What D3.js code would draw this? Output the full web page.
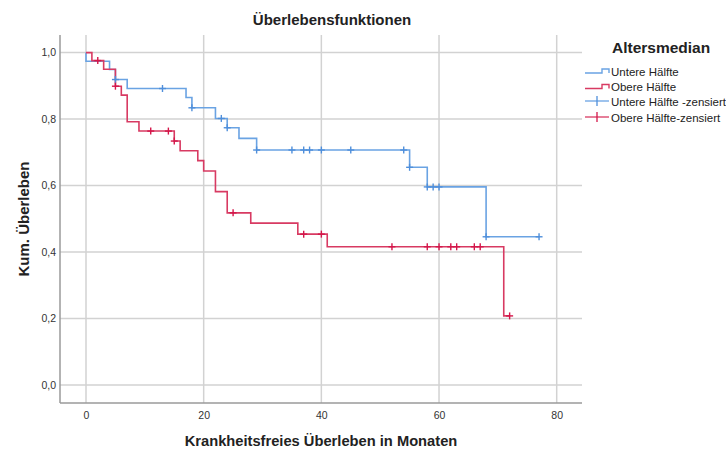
<!DOCTYPE html>
<html lang="de">
<head>
<meta charset="utf-8">
<title>Überlebensfunktionen</title>
<script src="https://cdn.jsdelivr.net/npm/d3@7"></script>
<style>
  html, body { margin: 0; padding: 0; background: #fff; }
  svg { display: block; font-family: "Liberation Sans", Arial, sans-serif; }
</style>
</head>
<body>
<svg id="chart" width="726" height="449"></svg>
<script>
// Kaplan-Meier-Schätzer: Ereigniszeitpunkte (Monate) und kumuliertes Überleben danach
const gruppen = ["Untere Hälfte", "Obere Hälfte"];

const unterZeiten = [0, 4, 5, 7, 17, 18, 22, 24, 26, 29, 55, 58, 68];
const unterUeberleben = [0.974, 0.949, 0.919, 0.892, 0.865, 0.834, 0.802, 0.774, 0.742, 0.707, 0.655, 0.596, 0.446];
const unterZensiert = [5, 13, 18, 23, 24, 29, 35, 37, 38, 40, 45, 54, 55, 58, 59, 60, 68, 77];

const obereZeiten = [1, 3, 5, 6, 7, 9, 15, 16, 19, 20, 22, 24, 28, 36, 41, 71];
const obereUeberleben = [0.976, 0.950, 0.899, 0.872, 0.792, 0.764, 0.734, 0.705, 0.675, 0.644, 0.582, 0.518, 0.487, 0.454, 0.416, 0.208];
const obereZensiert = [2, 5, 11, 14, 15, 25, 37, 40, 52, 58, 60, 62, 63, 66, 67, 72];

const xTicks = [0, 20, 40, 60, 80];
const yTicks = [0, 0.2, 0.4, 0.6, 0.8, 1.0];

const legendeTitel = "Altersmedian";
const legendeEintraege = ["Untere Hälfte", "Obere Hälfte", "Untere Hälfte -zensiert", "Obere Hälfte-zensiert"];

const farbeBlau = "#6aa3e3";
const farbeRot = "#d83a62";
const markeBlau = "#4f8fdb";
const markeRot = "#d4164a";

const svg = d3.select("#chart");
const plot = { left: 60, right: 582, top: 35, bottom: 403 };

const x = d3.scaleLinear().domain([-4.42, 84.3]).range([plot.left, plot.right]);
const y = d3.scaleLinear().domain([-0.054, 1.053]).range([plot.bottom, plot.top]);

const deFormat = d3.formatLocale({ decimal: ",", thousands: ".", grouping: [3], currency: ["", " €"] });
const fmtY = deFormat.format(".1f");

// Gitterlinien
svg.append("g")
  .selectAll("line")
  .data(xTicks)
  .join("line")
  .attr("x1", d => x(d)).attr("x2", d => x(d))
  .attr("y1", plot.top).attr("y2", plot.bottom)
  .attr("stroke", "#d2d2d2").attr("stroke-width", 1.5);

svg.append("g")
  .selectAll("line")
  .data(yTicks)
  .join("line")
  .attr("x1", plot.left).attr("x2", plot.right)
  .attr("y1", d => y(d)).attr("y2", d => y(d))
  .attr("stroke", "#d2d2d2").attr("stroke-width", 1.5);

// Achsen
const xAxis = svg.append("g")
  .attr("transform", `translate(0,${plot.bottom})`)
  .call(d3.axisBottom(x).tickValues(xTicks).tickSize(0).tickPadding(9).tickFormat(d3.format("d")));
xAxis.select(".domain").attr("stroke", "#9a9a9a").attr("stroke-width", 1.5)
  .attr("d", `M${plot.left},0H${plot.right}`);
xAxis.selectAll("text").attr("font-size", 10.5).attr("fill", "#333").attr("font-family", null);

const yAxis = svg.append("g")
  .attr("transform", `translate(${plot.left},0)`)
  .call(d3.axisLeft(y).tickValues(yTicks).tickSize(0).tickPadding(4).tickFormat(fmtY));
yAxis.select(".domain").attr("stroke", "#9a9a9a").attr("stroke-width", 1.5)
  .attr("d", `M0,${plot.top}V${plot.bottom}`);
yAxis.selectAll("text").attr("font-size", 10.5).attr("fill", "#333").attr("font-family", null);

// Treppenkurven
function treppe(zeiten, werte, ende) {
  const pts = [[0, 1]];
  zeiten.forEach((t, i) => pts.push([t, werte[i]]));
  pts.push([ende, werte[werte.length - 1]]);
  return pts;
}
function ueberlebenBei(t, zeiten, werte) {
  let s = 1;
  zeiten.forEach((z, i) => { if (z <= t) s = werte[i]; });
  return s;
}

const linie = d3.line().x(d => x(d[0])).y(d => y(d[1])).curve(d3.curveStepAfter);

const reihen = [
  { name: gruppen[0], zeiten: unterZeiten, werte: unterUeberleben, zens: unterZensiert, farbe: farbeBlau, marke: markeBlau },
  { name: gruppen[1], zeiten: obereZeiten, werte: obereUeberleben, zens: obereZensiert, farbe: farbeRot, marke: markeRot }
];

reihen.forEach(r => {
  svg.append("path")
    .datum(treppe(r.zeiten, r.werte, d3.max(r.zens)))
    .attr("d", linie)
    .attr("fill", "none")
    .attr("stroke", r.farbe)
    .attr("stroke-width", 1.6);
});

// Zensierungsmarken
const mk = 3.5;
reihen.forEach(r => {
  const g = svg.append("g").attr("stroke", r.marke).attr("stroke-width", 1.4);
  r.zens.forEach(t => {
    const cx = x(t), cy = y(ueberlebenBei(t, r.zeiten, r.werte));
    g.append("line").attr("x1", cx).attr("x2", cx).attr("y1", cy - mk).attr("y2", cy + mk);
    g.append("line").attr("x1", cx - mk).attr("x2", cx + mk).attr("y1", cy).attr("y2", cy);
  });
});

// Titel
svg.append("text")
  .attr("x", 332).attr("y", 25)
  .attr("text-anchor", "middle")
  .attr("font-size", 15).attr("font-weight", "bold").attr("fill", "#222")
  .text("Überlebensfunktionen");

svg.append("text")
  .attr("transform", `translate(29,${(plot.top + plot.bottom) / 2}) rotate(-90)`)
  .attr("text-anchor", "middle")
  .attr("font-size", 15).attr("font-weight", "bold").attr("fill", "#222")
  .text("Kum. Überleben");

svg.append("text")
  .attr("x", (plot.left + plot.right) / 2).attr("y", 446)
  .attr("text-anchor", "middle")
  .attr("font-size", 14.7).attr("font-weight", "bold").attr("fill", "#222")
  .text("Krankheitsfreies Überleben in Monaten");

// Legende
const lg = svg.append("g").attr("transform", "translate(585,0)");
lg.append("text")
  .attr("x", 27).attr("y", 53)
  .attr("font-size", 15.5).attr("font-weight", "bold").attr("fill", "#222")
  .text(legendeTitel);

const zeilenY = [71, 86.5, 101, 117];
legendeEintraege.forEach((txt, i) => {
  const cy = zeilenY[i];
  const farbe = i % 2 === 0 ? farbeBlau : farbeRot;
  const marke = i % 2 === 0 ? markeBlau : markeRot;
  if (i < 2) {
    lg.append("path")
      .attr("d", `M0,${cy + 2}H17V${cy - 2}H24V${cy + 2}`)
      .attr("fill", "none").attr("stroke", farbe).attr("stroke-width", 1.4);
  } else {
    lg.append("line").attr("x1", 0).attr("x2", 24).attr("y1", cy).attr("y2", cy)
      .attr("stroke", farbe).attr("stroke-width", 1.3);
    lg.append("line").attr("x1", 12).attr("x2", 12).attr("y1", cy - 5).attr("y2", cy + 5)
      .attr("stroke", marke).attr("stroke-width", 1.3);
  }
  lg.append("text")
    .attr("x", 26).attr("y", cy + 4.5)
    .attr("font-size", 11.5).attr("fill", "#222")
    .text(txt);
});
</script>
</body>
</html>
